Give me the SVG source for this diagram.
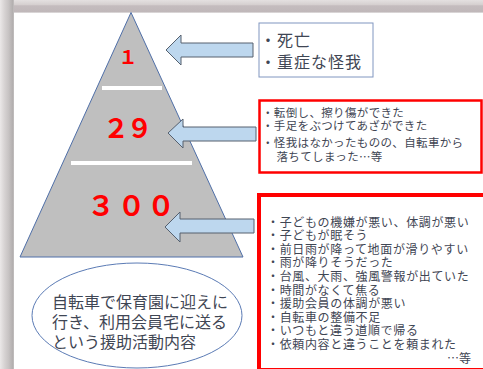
<svg xmlns="http://www.w3.org/2000/svg" width="483" height="369" viewBox="0 0 483 369">
<defs>
<linearGradient id="gTop" x1="0" y1="0" x2="0" y2="1">
<stop offset="0" stop-color="#e4e0e0"/>
<stop offset="0.35" stop-color="#d6d0d0"/>
<stop offset="0.45" stop-color="#c4bcbe"/>
<stop offset="0.9" stop-color="#c0b8ba"/>
<stop offset="1" stop-color="#e8e6e6"/>
</linearGradient>
<linearGradient id="gLeft" x1="0" y1="0" x2="1" y2="0">
<stop offset="0" stop-color="#ebe8e8"/>
<stop offset="0.3" stop-color="#d8d4d4"/>
<stop offset="0.6" stop-color="#c8c4c4"/>
<stop offset="0.95" stop-color="#b0acac"/>
<stop offset="1" stop-color="#e0dede"/>
</linearGradient>
<style>
.arrow{fill:#bdd7ee;stroke:#56606e;stroke-width:1}
.jp{font-family:"Noto Sans CJK JP","Noto Sans",sans-serif;fill:#3f4654}
.num{font-family:"Noto Sans CJK JP","Noto Sans",sans-serif;fill:#ff0000;text-anchor:middle;font-weight:bold}
.wl{fill:#ffffff}
</style>
</defs>
<rect x="0" y="0" width="483" height="369" fill="#ffffff"/>
<rect x="0" y="0" width="483" height="13" fill="url(#gTop)"/>
<rect x="0" y="0" width="14" height="369" fill="url(#gLeft)"/>

<g id="pyramid">
<polygon points="131,12.5 243,257 20,257" fill="#bfbfbf" stroke="#4f6fa8" stroke-width="1"/>
<rect class="wl" x="102" y="86" width="60" height="4"/>
<rect class="wl" x="71" y="161" width="121" height="4"/>
<text class="num" x="128" y="64" font-size="19" font-weight="normal">１</text>
<text class="num" font-size="26"><tspan x="116" y="138">２</tspan><tspan x="139.5" y="138">９</tspan></text>
<text class="num" font-size="28"><tspan x="101" y="216">３</tspan><tspan x="131.5" y="216">０</tspan><tspan x="161" y="216">０</tspan></text>
</g>

<g id="connectors">
<polygon class="arrow" points="166,50 181,35 181,43 253,43 253,57 181,57 181,65"/>
<polygon class="arrow" points="168,133 183,119 183,127 256,127 256,141 183,141 183,148"/>
<polygon class="arrow" points="165,227 180,212 180,219 254,219 254,233 180,233 180,242"/>
</g>

<g id="box1">
<rect x="259" y="23" width="114" height="54" fill="#ffffff" stroke="#8096c0" stroke-width="1"/>
<text class="jp" font-size="16" letter-spacing="1"><tspan x="260" y="46">・死亡</tspan><tspan x="260" y="68">・重症な怪我</tspan></text>
</g>

<g id="box2">
<rect x="259.5" y="100.5" width="222" height="72" fill="#ffffff" stroke="#ff0000" stroke-width="2.5"/>
<text class="jp" font-size="11.5" letter-spacing="0.35">
<tspan x="262" y="117">・転倒し、擦り傷ができた</tspan>
<tspan x="262" y="130">・手足をぶつけてあざができた</tspan>
<tspan x="262" y="147">・怪我はなかったものの、自転車から</tspan>
<tspan x="276.5" y="161">落ちてしまった…等</tspan>
</text>
</g>

<g id="box3">
<rect x="259" y="195" width="230" height="175" fill="#ffffff" stroke="#ff0000" stroke-width="4"/>
<text class="jp" font-size="12" letter-spacing="0.65">
<tspan x="267" y="226.6">・子どもの機嫌が悪い、体調が悪い</tspan>
<tspan x="267" y="240.2">・子どもが眠そう</tspan>
<tspan x="267" y="253.8">・前日雨が降って地面が滑りやすい</tspan>
<tspan x="267" y="267.4">・雨が降りそうだった</tspan>
<tspan x="267" y="281">・台風、大雨、強風警報が出ていた</tspan>
<tspan x="267" y="294.6">・時間がなくて焦る</tspan>
<tspan x="267" y="308.2">・援助会員の体調が悪い</tspan>
<tspan x="267" y="321.8">・自転車の整備不足</tspan>
<tspan x="267" y="335.4">・いつもと違う道順で帰る</tspan>
<tspan x="267" y="349">・依頼内容と違うことを頼まれた</tspan>
</text>
<text class="jp" font-size="12" x="471" y="362.6" text-anchor="end">…等</text>
</g>

<g id="ellipse">
<ellipse cx="137" cy="315.5" rx="105" ry="52.5" fill="#ffffff" stroke="#5b7bb5" stroke-width="1"/>
<text class="jp" font-size="16"><tspan x="52" y="308">自転車で保育園に迎えに</tspan><tspan x="52" y="328">行き、利用会員宅に送る</tspan><tspan x="52" y="348">という援助活動内容</tspan></text>
</g>
</svg>
